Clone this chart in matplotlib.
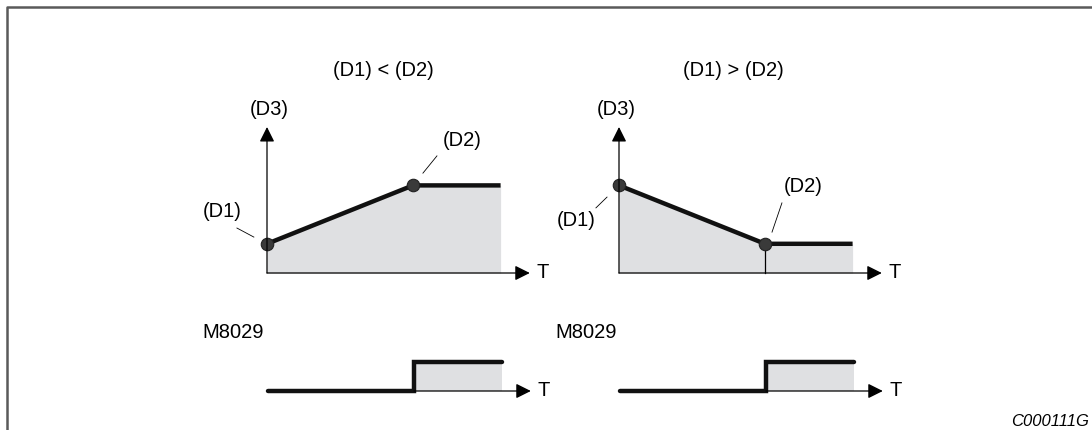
import matplotlib
matplotlib.use("Agg")
import matplotlib.pyplot as plt

plt.rcParams['font.family'] = ['Liberation Sans', 'DejaVu Sans']

# waveform values (time units, value units)
t_rise = [0, 5, 8]
d3_rise = [1, 3, 3]
t_fall = [0, 5, 8]
d3_fall = [3, 1, 1]
t_flag = [0, 5, 5, 8]
m8029 = [0, 0, 1, 1]
t_end = 9
d3_top = 5

titles = ["(D1) < (D2)", "(D1) > (D2)"]

W, H = 1092, 430
U = 29.2  # px per unit
FILL = '#dfe0e2'
DOT = '#3a3a3a'
FS = 14.5

fig = plt.figure(figsize=(W / 100, H / 100), dpi=100)

# overlay in pixel coordinates for frame and free text
bg = fig.add_axes([0, 0, 1, 1])
bg.set_xlim(0, W)
bg.set_ylim(H, 0)
bg.axis('off')
bg.plot([7, 7, W], [H, 7, 7], color='#5a5a5a', lw=1.8, solid_capstyle='butt')
bg.text(383, 70, titles[0], ha='center', va='center', fontsize=FS)
bg.text(733, 70, titles[1], ha='center', va='center', fontsize=FS)
bg.text(202, 333, "M8029", ha='left', va='center', fontsize=FS)
bg.text(555, 333, "M8029", ha='left', va='center', fontsize=FS)
bg.text(1089, 421, "C000111G", ha='right', va='center', fontsize=12, style='italic')


def panel(ox, oy, xlo=-3.0, xhi=10.5, ylo=-1.5, yhi=6.5):
    left = (ox + xlo * U) / W
    bottom = (H - oy + ylo * U) / H
    ax = fig.add_axes([left, bottom, (xhi - xlo) * U / W, (yhi - ylo) * U / H])
    ax.set_xlim(xlo, xhi)
    ax.set_ylim(ylo, yhi)
    ax.axis('off')
    ax.patch.set_alpha(0)
    return ax


def arrow(ax, start, tip):
    ax.annotate('', xy=tip, xytext=start,
                arrowprops=dict(arrowstyle='-|>,head_length=0.6,head_width=0.3',
                                mutation_scale=15, lw=0.9, color='black',
                                shrinkA=0, shrinkB=0))


def ramp_panel(ax, t, v, thin_drop=False):
    ax.fill_between(t, v, 0, color=FILL, lw=0)
    arrow(ax, (0, 0), (t_end, 0))
    arrow(ax, (0, 0), (0, d3_top))
    if thin_drop:
        ax.plot([t[1], t[1]], [0, v[1]], color='black', lw=0.9)
    ax.plot(t, v, color='#111111', lw=3.2, solid_capstyle='butt')
    ax.plot(t[:2], v[:2], 'o', ms=9, color=DOT, mec='#222222', mew=0.8)
    ax.text(t_end + 0.45, 0, "T", ha='center', va='center', fontsize=FS)


def flag_panel(ax):
    ax.fill_between(t_flag[2:], m8029[2:], 0, color=FILL, lw=0)
    arrow(ax, (t_flag[1], 0), (t_end, 0))
    ax.plot(t_flag, m8029, color='#111111', lw=3.2,
            solid_capstyle='round', solid_joinstyle='miter')
    ax.text(t_end + 0.45, 0, "T", ha='center', va='center', fontsize=FS)


# top left: rising ramp
a1 = panel(267, 273)
ramp_panel(a1, t_rise, d3_rise)
a1.text(0.07, 5.6, "(D3)", ha='center', va='center', fontsize=FS)
a1.text(6.7, 4.55, "(D2)", ha='center', va='center', fontsize=FS)
a1.text(-1.55, 2.1, "(D1)", ha='center', va='center', fontsize=FS)
a1.plot([-1.03, -0.45], [1.54, 1.23], color='black', lw=0.6)
a1.plot([5.34, 5.82], [3.42, 4.01], color='black', lw=0.6)

# top right: falling ramp
a2 = panel(619, 273)
ramp_panel(a2, t_fall, d3_fall, thin_drop=True)
a2.text(-0.1, 5.6, "(D3)", ha='center', va='center', fontsize=FS)
a2.text(6.3, 2.95, "(D2)", ha='center', va='center', fontsize=FS)
a2.text(-1.45, 1.8, "(D1)", ha='center', va='center', fontsize=FS)
a2.plot([-0.79, -0.41], [2.23, 2.6], color='black', lw=0.6)
a2.plot([5.24, 5.58], [1.4, 2.4], color='black', lw=0.6)

# bottom: M8029 flag
b1 = panel(268, 391, ylo=-1.0, yhi=2.0)
flag_panel(b1)
b2 = panel(620, 391, ylo=-1.0, yhi=2.0)
flag_panel(b2)

fig.savefig("out.png", dpi=100)
